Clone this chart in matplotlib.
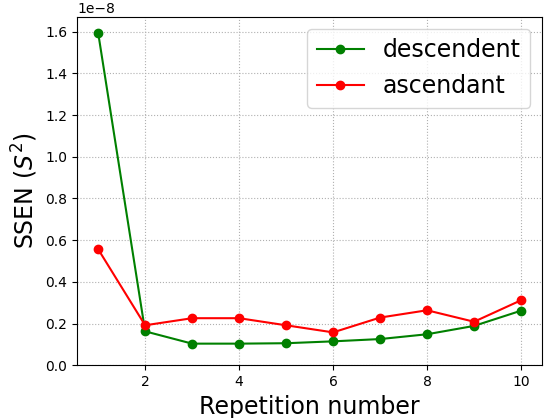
import numpy as np
import matplotlib
matplotlib.use('Agg')
import matplotlib.pyplot as plt

# data (values in units of 1e-8)
repetitions = np.arange(1, 11)
descendent = np.array([1.595, 0.163, 0.104, 0.104, 0.106, 0.115, 0.126, 0.149, 0.189, 0.262]) * 1e-8
ascendant = np.array([0.557, 0.192, 0.226, 0.226, 0.192, 0.158, 0.229, 0.264, 0.209, 0.312]) * 1e-8

fig = plt.figure(figsize=(5.46, 4.18), dpi=100)
ax = fig.add_axes([0.141, 0.126, 0.852, 0.833])

ax.plot(repetitions, descendent, '-o', color='green', label='descendent')
ax.plot(repetitions, ascendant, '-o', color='red', label='ascendant')

ax.grid(True, linestyle=':', color='#b0b0b0')
ax.set_xlabel('Repetition number', fontsize=17)
ax.set_ylabel('SSEN ($S^2$)', fontsize=17)
ax.set_xticks([2, 4, 6, 8, 10])
ax.set_ylim(bottom=0)
ax.legend(fontsize=17, loc='upper right')

fig.savefig('out.png', dpi=100)
